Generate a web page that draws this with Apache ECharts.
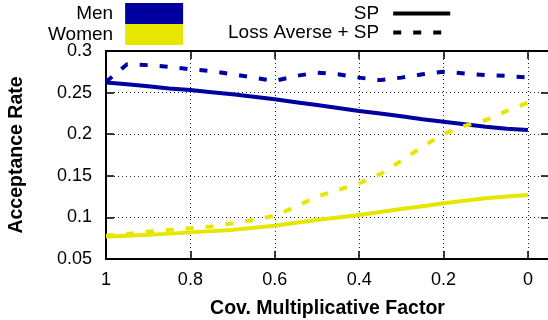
<!DOCTYPE html>
<html>
<head>
<meta charset="utf-8">
<script src="https://cdn.jsdelivr.net/npm/echarts@6/dist/echarts.min.js"></script>
<style>html,body{margin:0;padding:0;background:#fff}#c{width:548px;height:320px}</style>
</head>
<body>
<div id="c"></div>
<script>
var factors = [1, 0.95, 0.9, 0.85, 0.8, 0.75, 0.7, 0.65, 0.6, 0.55, 0.5, 0.45, 0.4, 0.35, 0.3, 0.25, 0.2, 0.15, 0.1, 0.05, 0];
var menSP = [0.262, 0.260, 0.2575, 0.255, 0.253, 0.2505, 0.248, 0.245, 0.242, 0.2385, 0.235, 0.2315, 0.228, 0.225, 0.2215, 0.218, 0.215, 0.212, 0.209, 0.2065, 0.205];
var menLA = [0.263, 0.284, 0.283, 0.281, 0.278, 0.276, 0.272, 0.268, 0.264, 0.270, 0.274, 0.272, 0.268, 0.265, 0.268, 0.272, 0.275, 0.273, 0.271, 0.270, 0.268];
var womenSP = [0.077, 0.078, 0.079, 0.0805, 0.082, 0.0835, 0.085, 0.0875, 0.090, 0.0935, 0.097, 0.100, 0.103, 0.1065, 0.110, 0.1135, 0.117, 0.120, 0.123, 0.125, 0.127];
var womenLA = [0.078, 0.080, 0.083, 0.085, 0.087, 0.089, 0.093, 0.097, 0.102, 0.113, 0.125, 0.133, 0.141, 0.152, 0.168, 0.185, 0.200, 0.210, 0.217, 0.228, 0.238];
var groupNames = ['Men', 'Women'];
var methodNames = ['SP', 'Loss Averse + SP'];
var xTitle = 'Cov. Multiplicative Factor';
var yTitle = 'Acceptance Rate';

var BLUE = '#0000a0', YELLOW = '#e6e600';
var FONT = "'Liberation Sans', Arial, Helvetica, sans-serif";
var DASH = [8, 12];

function pairs(vals) { return factors.map(function (f, i) { return [f, vals[i]]; }); }

var chart = echarts.init(document.getElementById('c'), null, { renderer: 'canvas' });
var gridLine = { show: true, lineStyle: { color: '#222', width: 1, type: [1, 3] } };
var frameLine = { show: true, onZero: false, lineStyle: { color: '#000', width: 2 } };
var tick = { show: true, inside: true, length: 8, lineStyle: { color: '#000', width: 1.5 } };

chart.setOption({
  animation: false,
  textStyle: { fontFamily: FONT, color: '#000' },
  grid: { left: 106, right: -1, top: 51, bottom: 61, containLabel: false, outerBoundsMode: 'none' },
  xAxis: [{
    type: 'value', min: -0.05, max: 1, inverse: true, splitNumber: 5,
    axisLine: frameLine, axisTick: tick, splitLine: gridLine,
    axisLabel: {
      color: '#000', fontSize: 18, fontFamily: FONT, margin: 12,
      formatter: function (v) { return Math.abs(v * 5 - Math.round(v * 5)) < 1e-6 ? String(Math.round(v * 10) / 10) : ''; }
    },
    name: xTitle, nameLocation: 'middle', nameGap: 40,
    nameTextStyle: { fontSize: 19.5, fontWeight: 'bold', color: '#000', fontFamily: FONT }
  }, {
    type: 'value', position: 'top', min: -0.05, max: 1, inverse: true, splitNumber: 5,
    axisLine: frameLine, axisTick: tick, splitLine: { show: false }, axisLabel: { show: false }
  }],
  yAxis: [{
    type: 'value', min: 0.05, max: 0.3, interval: 0.05,
    axisLine: frameLine, axisTick: tick, splitLine: gridLine,
    axisLabel: { color: '#000', fontSize: 18, fontFamily: FONT, margin: 14 },
    name: yTitle, nameLocation: 'middle', nameGap: 79, nameRotate: 90,
    nameTextStyle: { fontSize: 19.5, fontWeight: 'bold', color: '#000', fontFamily: FONT }
  }, {
    type: 'value', position: 'right', min: 0.05, max: 0.3, interval: 0.05,
    axisLine: frameLine, axisTick: tick, splitLine: { show: false }, axisLabel: { show: false }
  }],
  legend: [{
    orient: 'vertical', align: 'right', left: 48, top: 3, padding: 0, itemGap: 0,
    itemWidth: 58, itemHeight: 21,
    textStyle: { fontSize: 19, fontFamily: FONT, color: '#000', padding: [0, 7, 0, 0] },
    data: [{ name: groupNames[0], icon: 'rect' }, { name: groupNames[1], icon: 'rect' }],
    selectedMode: false
  }, {
    orient: 'vertical', align: 'right', left: 228, top: 4, padding: 0, itemGap: 0,
    itemWidth: 57, itemHeight: 21,
    lineStyle: { width: 4 },
    itemStyle: { opacity: 0 },
    textStyle: { fontSize: 19, fontFamily: FONT, color: '#000', padding: [0, 9, 0, 0] },
    data: [methodNames[0], methodNames[1]],
    selectedMode: false
  }],
  series: [
    { name: groupNames[0], type: 'scatter', data: [], itemStyle: { color: BLUE, opacity: 1 } },
    { name: groupNames[1], type: 'scatter', data: [], itemStyle: { color: YELLOW, opacity: 1 } },
    { name: methodNames[0], type: 'line', data: [], symbol: 'none', itemStyle: { color: '#000' }, lineStyle: { color: '#000', width: 4 } },
    { name: methodNames[1], type: 'line', data: [], symbol: 'none', itemStyle: { color: '#000' }, lineStyle: { color: '#000', width: 4, type: DASH } },
    { name: 'Men SP', type: 'line', data: pairs(menSP), symbol: 'none', lineStyle: { color: BLUE, width: 4 }, itemStyle: { color: BLUE } },
    { name: 'Men LA', type: 'line', data: pairs(menLA), symbol: 'none', lineStyle: { color: BLUE, width: 4, type: DASH }, itemStyle: { color: BLUE } },
    { name: 'Women SP', type: 'line', data: pairs(womenSP), symbol: 'none', lineStyle: { color: YELLOW, width: 4 }, itemStyle: { color: YELLOW } },
    { name: 'Women LA', type: 'line', data: pairs(womenLA), symbol: 'none', lineStyle: { color: YELLOW, width: 4, type: DASH }, itemStyle: { color: YELLOW } }
  ]
});
</script>
</body>
</html>
